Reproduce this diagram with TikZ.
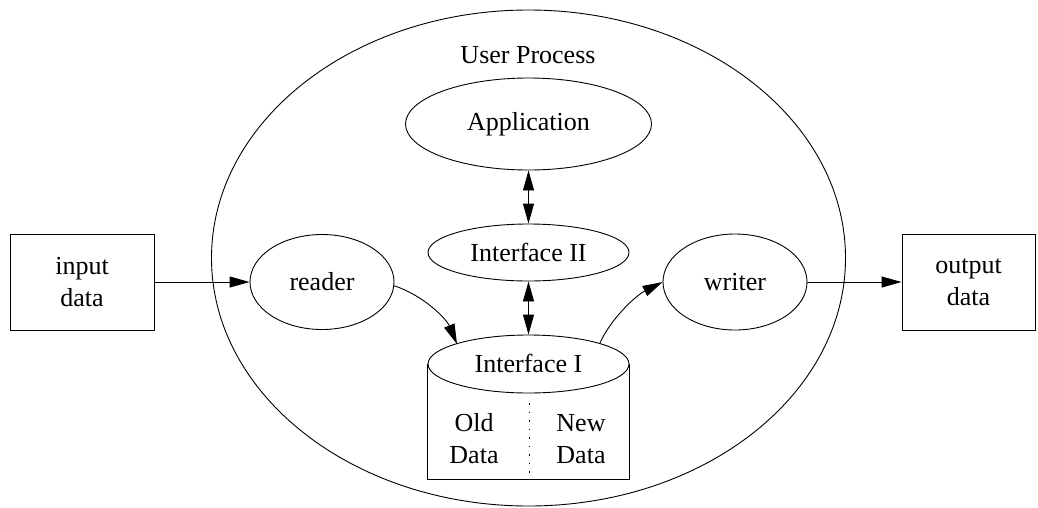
\documentclass[tikz,border=0pt]{standalone}
\usepackage{fontspec}
\setmainfont{Liberation Serif}
\usetikzlibrary{shapes.geometric,arrows.meta}
\begin{document}
\begin{tikzpicture}[x=1pt,y=-1pt,line width=0.9pt,
  every node/.style={font=\fontsize{26}{32}\selectfont},
  ell/.style={draw,ellipse,inner sep=0pt},
  boxn/.style={draw,rectangle,inner sep=0pt,align=center},
  lbl/.style={align=center,inner sep=0pt},
  arr/.style={-{Triangle[length=20pt,width=11pt]}},
  darr/.style={{Triangle[length=20pt,width=11pt]}-{Triangle[length=20pt,width=11pt]}}]
\useasboundingbox (0,0) rectangle (1038,507);
% outer process
\node[ell,minimum width=634pt,minimum height=496pt] (proc) at (528.5,258) {};
\node[lbl] (proclbl) at (528,55) {User Process};
% boxes
\node[boxn,minimum width=144pt,minimum height=96pt] (in) at (82,282) {input\\data};
\node[boxn,minimum width=133pt,minimum height=96pt] (out) at (968.5,282) {output\\data};
% ellipses
\node[ell,minimum width=246pt,minimum height=92pt] (app) at (528.5,124) {Application};
\node[ell,minimum width=201pt,minimum height=57pt] (if2) at (528.5,252.5) {Interface II};
\node[ell,minimum width=144pt,minimum height=95pt] (reader) at (322,282) {reader};
\node[ell,minimum width=144pt,minimum height=96pt] (writer) at (735,282) {writer};
% cylinder (Interface I)
\node[minimum width=201pt,minimum height=144pt,inner sep=0pt] (cyl) at (528.5,407) {};
\draw (cyl.north west |- 0,364) -- (cyl.south west) -- (cyl.south east) -- (cyl.north east |- 0,364);
\draw[fill=white] (528.5,364) ellipse [x radius=100.5pt, y radius=29pt];
\node[lbl] (if1) at (528.5,363) {Interface I};
\draw[dash pattern=on 1.5pt off 7pt] (529,403) -- (cyl.south -| 529,0);
\node[lbl] (olddata) at (474,439) {Old\\Data};
\node[lbl] (newdata) at (581,439) {New\\Data};
\coordinate (cylL) at (457,344);
\coordinate (cylR) at (600,343);
% connectors
\draw[arr] (in.east) -- (reader.west);
\draw[arr] (writer.east) -- (out.west);
\draw[darr] (app.south) -- (if2.north);
\draw[darr] (if2.south) -- (cyl.north);
\draw[arr] (reader.-3) .. controls (425,296) and (447,320) .. (cylL);
\draw[arr] (cylR) .. controls (610,320) and (635,296) .. (writer.west);
\end{tikzpicture}
\end{document}
